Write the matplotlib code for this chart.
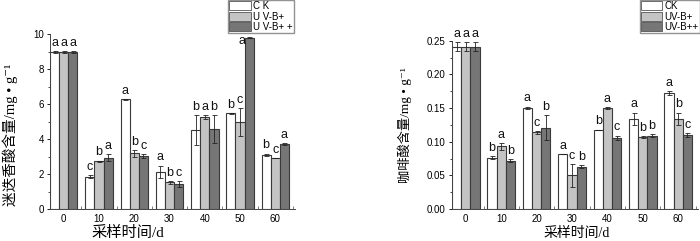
import numpy as np
import matplotlib
matplotlib.use("Agg")
import matplotlib.pyplot as plt
from matplotlib.patches import Patch
from matplotlib.ticker import MultipleLocator

plt.rcParams["font.family"] = ["Liberation Sans", "Noto Sans CJK SC", "DejaVu Sans"]

days = ["0", "10", "20", "30", "40", "50", "60"]
groups = ["CK", "UV-B+", "UV-B++"]

# rosmarinic acid (left)
ra_ck = [8.95, 1.85, 6.27, 2.13, 4.51, 5.47, 3.10]
ra_p = [8.95, 2.72, 3.18, 1.52, 5.24, 4.97, 2.91]
ra_pp = [8.95, 2.92, 3.03, 1.43, 4.57, 9.80, 3.72]
ra_ck_err = [0.06, 0.10, 0.02, 0.35, 0.85, 0.02, 0.07]
ra_p_err = [0.06, 0.05, 0.20, 0.08, 0.12, 0.80, 0.0]
ra_pp_err = [0.06, 0.20, 0.10, 0.15, 0.80, 0.03, 0.07]
ra_ck_lbl = ["a", "c", "a", "a", "b", "b", "b"]
ra_p_lbl = ["a", "b", "b", "b", "a", "c", "c"]
ra_pp_lbl = ["a", "a", "c", "c", "b", "a", "a"]

# caffeic acid (right)
ca_ck = [0.241, 0.076, 0.150, 0.081, 0.118, 0.134, 0.172]
ca_p = [0.241, 0.093, 0.114, 0.050, 0.150, 0.107, 0.134]
ca_pp = [0.241, 0.072, 0.121, 0.063, 0.106, 0.109, 0.110]
ca_ck_err = [0.007, 0.002, 0.002, 0.0, 0.0, 0.009, 0.003]
ca_p_err = [0.007, 0.005, 0.002, 0.017, 0.001, 0.001, 0.009]
ca_pp_err = [0.007, 0.002, 0.018, 0.002, 0.003, 0.002, 0.003]
ca_ck_lbl = ["a", "b", "a", "a", "b", "a", "a"]
ca_p_lbl = ["a", "a", "c", "c", "a", "b", "b"]
ca_pp_lbl = ["a", "b", "b", "b", "c", "b", "c"]

colours = ["#ffffff", "#c4c4c4", "#767676"]
edge = "#3a3a3a"
W, H = 700, 241


def draw_panel(ax, vals, errs, lbls, ymax, ystep, ymin_step, fmt, pad):
    x = np.arange(len(days))
    w = 0.26
    for i in range(3):
        xs = x + (i - 1) * w
        ax.bar(xs, vals[i], w, color=colours[i], edgecolor=edge, linewidth=0.8, zorder=2)
        ax.errorbar(xs, vals[i], yerr=errs[i], fmt="none", ecolor="#222222",
                    elinewidth=0.6, capsize=1.8, capthick=0.6, zorder=3)
        for xx, v, e, l in zip(xs, vals[i], errs[i], lbls[i]):
            ty = v + e + pad
            tx = xx
            if v > ymax * 0.97:
                # bar reaches the top: letter sits beside it
                tx = xx - w * 0.8
                ty = v - pad * 4.5
            ax.text(tx, ty, l, ha="center", va="bottom", fontsize=9, color="#111111",
                    clip_on=False)
    ax.set_xlim(-0.39, 6.56)
    ax.set_ylim(0, ymax)
    ax.set_xticks(x)
    ax.set_xticklabels(days, fontsize=7)
    ax.set_xticks(x + 0.5, minor=True)
    ax.yaxis.set_major_locator(MultipleLocator(ystep))
    ax.yaxis.set_minor_locator(MultipleLocator(ymin_step))
    ax.yaxis.set_major_formatter(plt.FormatStrFormatter(fmt))
    ax.tick_params(axis="y", labelsize=7, length=2.5, width=0.6, direction="out", pad=2)
    ax.tick_params(axis="y", which="minor", length=1.3, width=0.5)
    ax.tick_params(axis="x", which="major", length=0, pad=3.5)
    ax.tick_params(axis="x", which="minor", length=2, width=0.6, direction="in", color="#666666")
    for s in ["top", "right"]:
        ax.spines[s].set_visible(False)
    for s in ["left", "bottom"]:
        ax.spines[s].set_linewidth(0.7)
        ax.spines[s].set_color("#444444")


fig = plt.figure(figsize=(7, 2.41), dpi=100)

ax1 = fig.add_axes([50 / W, 1 - 209 / H, 245 / W, 175 / H])
draw_panel(ax1, [ra_ck, ra_p, ra_pp], [ra_ck_err, ra_p_err, ra_pp_err],
           [ra_ck_lbl, ra_p_lbl, ra_pp_lbl], 10, 2, 1, "%d", 0.12)

ax2 = fig.add_axes([452 / W, 1 - 209 / H, 246 / W, 168.3 / H])
draw_panel(ax2, [ca_ck, ca_p, ca_pp], [ca_ck_err, ca_p_err, ca_pp_err],
           [ca_ck_lbl, ca_p_lbl, ca_pp_lbl], 0.25, 0.05, 0.025, "%.2f", 0.0035)

serif = ["Liberation Serif", "Noto Sans CJK SC", "DejaVu Serif"]
fig.text(128 / W, 1 - 233 / H, "采样时间/d", ha="center", va="center", fontsize=11, family=serif)
fig.text(577 / W, 1 - 233 / H, "采样时间/d", ha="center", va="center", fontsize=10, family=serif)
fig.text(10 / W, 1 - 135 / H, "迷迭香酸含量/mg • g⁻¹", ha="center", va="center",
         rotation=90, fontsize=10.5, family=serif)
fig.text(405 / W, 1 - 125 / H, "咖啡酸含量/mg • g⁻¹", ha="center", va="center",
         rotation=90, fontsize=9.5, family=serif)

left_names = ["C K", "U V-B+", "U V-B+ +"]
handles = [Patch(facecolor=c, edgecolor="#555555", linewidth=0.6) for c in colours]
for names, right in [(left_names, 294), (groups, 700)]:
    fig.legend(handles, names, loc="upper right", bbox_to_anchor=(right / W, 1.0),
               fontsize=7, frameon=True, fancybox=False, edgecolor="#777777",
               borderpad=0.12, labelspacing=0.05, handlelength=2.2, handleheight=1.05,
               handletextpad=0.25, borderaxespad=0.0)

fig.savefig("out.png", dpi=100)
